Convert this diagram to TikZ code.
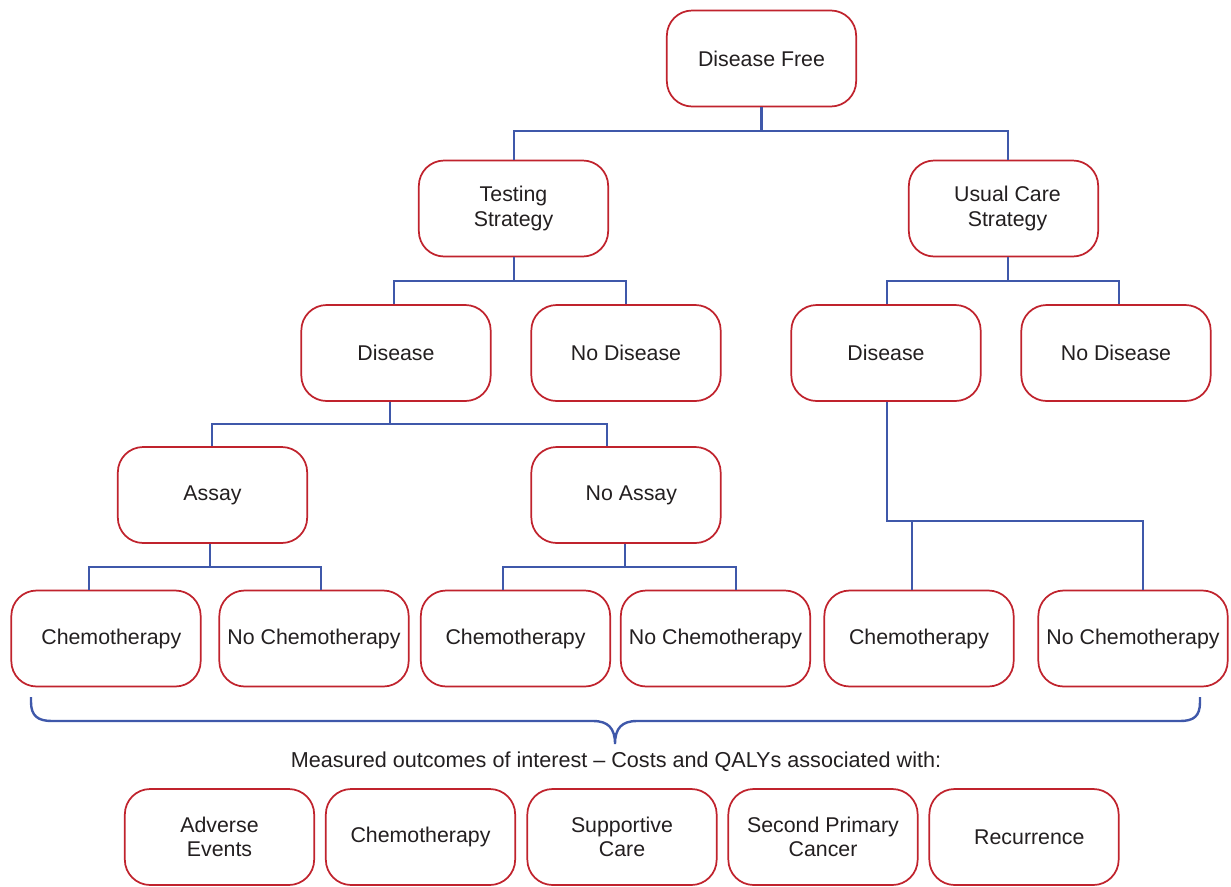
\documentclass[tikz,border=0pt]{standalone}
\usepackage{fontspec}
\setmainfont{Liberation Sans}
\definecolor{boxred}{HTML}{C0232D}
\definecolor{connblue}{HTML}{3F58AA}
\definecolor{txt}{HTML}{231F20}
\begin{document}
\begin{tikzpicture}[x=0.75pt,y=-0.75pt,
  box/.style={draw=boxred,line width=1.3pt,rounded corners=19pt,fill=white,
    minimum width=142pt,minimum height=72pt,align=center,text=txt,
    font=\fontsize{16}{18.5}\selectfont,inner sep=0pt},
  conn/.style={draw=connblue,line width=2.1pt}]
\useasboundingbox (0,0) rectangle (1231,886);
% row 1
\node[box] (df) at (761.5,58.5) {Disease Free};
% row 2
\node[box] (ts) at (513.5,208.5) {Testing\\Strategy};
\node[box] (uc) at (1003.5,208.5) {\hspace*{6pt}Usual Care\\\hspace*{6pt}Strategy};
% row 3
\node[box] (dl) at (396,353) {Disease};
\node[box] (ndl) at (626,353) {No Disease};
\node[box] (dr) at (886,353) {Disease};
\node[box] (ndr) at (1116,353) {No Disease};
% row 4
\node[box] (as) at (212.5,495) {Assay};
\node[box] (nas) at (626,495) {\hspace*{8pt}No Assay};
% row 5
\node[box] (c1) at (106,638.5) {\hspace*{8pt}Chemotherapy};
\node[box] (nc1) at (314,638.5) {No Chemotherapy};
\node[box] (c2) at (515.5,638.5) {Chemotherapy};
\node[box] (nc2) at (715.5,638.5) {No Chemotherapy};
\node[box] (c3) at (919,638.5) {Chemotherapy};
\node[box] (nc3) at (1133,638.5) {No Chemotherapy};
% outcomes
\node[text=txt,font=\fontsize{16.2}{19}\selectfont] (lbl) at (616,762) {Measured outcomes of interest -- Costs and QALYs associated with:};
\node[box] (o1) at (219.5,837) {Adverse\\Events};
\node[box] (o2) at (420.5,837) {Chemotherapy};
\node[box] (o3) at (622,837) {Supportive\\Care};
\node[box] (o4) at (823,837) {Second Primary\\Cancer};
\node[box] (o5) at (1024,837) {\hspace*{8pt}Recurrence};
% connectors
\coordinate (j1) at (761.5,131);
\draw[conn] (df.south) -- (j1);
\draw[conn] (ts.north -| 514,0) |- (j1) -| (uc.north -| 1008,0);
\coordinate (j2) at (514,281);
\draw[conn] (ts.south -| j2) -- (j2);
\draw[conn] (dl.north -| 394,0) |- (j2) -| (ndl.north);
\coordinate (j3) at (1008,281);
\draw[conn] (uc.south -| j3) -- (j3);
\draw[conn] (dr.north -| 887,0) |- (j3) -| (ndr.north -| 1119,0);
\coordinate (j4) at (390,424);
\draw[conn] (dl.south -| j4) -- (j4);
\coordinate (j4a) at (212,424);
\coordinate (j4b) at (607,424);
\draw[conn] (as.north -| j4a) -- (j4a) -- (j4b) -- (nas.north -| j4b);
\coordinate (j5) at (210,567);
\coordinate (j5a) at (89,567);
\coordinate (j5b) at (321,567);
\draw[conn] (as.south -| j5) -- (j5);
\draw[conn] (c1.north -| j5a) -- (j5a) -- (j5b) -- (nc1.north -| j5b);
\coordinate (j6) at (625,567);
\coordinate (j6a) at (503,567);
\coordinate (j6b) at (736,567);
\draw[conn] (nas.south -| j6) -- (j6);
\draw[conn] (c2.north -| j6a) -- (j6a) -- (j6b) -- (nc2.north -| j6b);
\coordinate (j7) at (887,521);
\coordinate (j7a) at (912,521);
\coordinate (j7b) at (1143,521);
\draw[conn] (dr.south -| j7) -- (j7) -- (j7b) -- (nc3.north -| j7b);
\draw[conn] (j7a) -- (c3.north -| j7a);
% brace
\coordinate (bl) at (31,697);
\coordinate (br) at (1200,697);
\coordinate (bt) at (615,744);
\draw[conn,line width=1.8pt] (bl) -- (31,702) .. controls (31,716) and (38,721) .. (52,721)
  -- (593,721) .. controls (608,721) and (615,728) .. (bt)
  .. controls (615,728) and (622,721) .. (637,721) -- (1180,721)
  .. controls (1194,721) and (1200,716) .. (1200,702) -- (br);
\end{tikzpicture}
\end{document}
